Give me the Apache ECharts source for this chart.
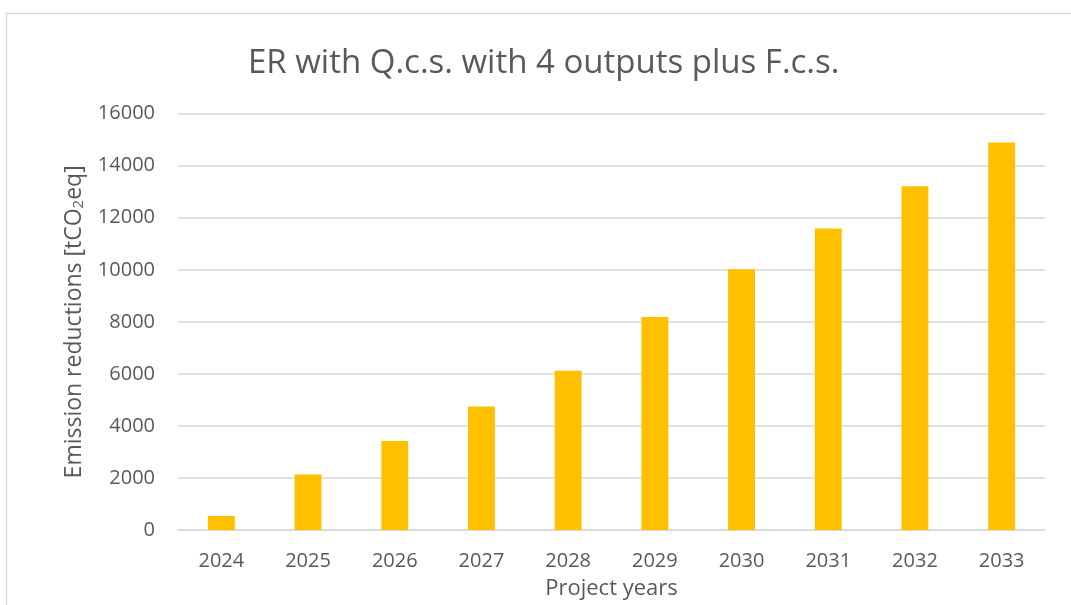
<!DOCTYPE html>
<html>
<head>
<meta charset="utf-8">
<script src="https://cdn.jsdelivr.net/npm/echarts@6/dist/echarts.min.js"></script>
<style>
html,body{margin:0;padding:0;background:#fff;}
#chart{width:1071px;height:605px;}
</style>
</head>
<body>
<div id="chart"></div>
<script>
const categories = ['2024','2025','2026','2027','2028','2029','2030','2031','2032','2033'];
const emissionReductions = [540, 2130, 3420, 4745, 6120, 8190, 10020, 11590, 13210, 14890];
const titleText = 'ER with Q.c.s. with 4 outputs plus F.c.s.';
const yAxisTitle = 'Emission reductions [tCO{sub|2}eq]';
const xAxisTitle = 'Project years';

const FONT = '"Open Sans", sans-serif';
const TXT = '#595959';
const chart = echarts.init(document.getElementById('chart'), null, {renderer: 'canvas'});
chart.setOption({
  animation: false,
  backgroundColor: '#ffffff',
  graphic: [
    {type: 'line', shape: {x1: 6, y1: 13.5, x2: 1071, y2: 13.5}, style: {stroke: '#d9d9d9', lineWidth: 1.5}, silent: true},
    {type: 'line', shape: {x1: 6.5, y1: 13, x2: 6.5, y2: 605}, style: {stroke: '#d9d9d9', lineWidth: 1.5}, silent: true}
  ],
  title: {
    text: titleText,
    left: 243,
    top: 42,
    textStyle: {fontFamily: FONT, fontSize: 33, fontWeight: 'normal', color: TXT}
  },
  grid: {left: 178, right: 26, top: 113.7, bottom: 73, containLabel: false},
  xAxis: {
    type: 'category',
    data: categories,
    name: xAxisTitle,
    nameLocation: 'middle',
    nameGap: 48,
    nameTextStyle: {fontFamily: FONT, fontSize: 22, color: TXT},
    axisLine: {lineStyle: {color: '#d9d9d9', width: 1.5}},
    axisTick: {show: false},
    axisLabel: {fontFamily: FONT, fontSize: 20, color: TXT, margin: 21}
  },
  yAxis: {
    type: 'value',
    min: 0,
    max: 16000,
    interval: 2000,
    name: yAxisTitle,
    nameLocation: 'middle',
    nameGap: 92,
    nameTextStyle: {
      fontFamily: FONT, fontSize: 23, color: TXT,
      rich: {sub: {fontFamily: FONT, fontSize: 15, color: TXT, verticalAlign: 'bottom', padding: [9, 0, 0, 0]}}
    },
    axisLine: {show: false},
    axisTick: {show: false},
    splitLine: {lineStyle: {color: '#d9d9d9', width: 1.5}},
    axisLabel: {fontFamily: FONT, fontSize: 20, color: TXT, margin: 23, formatter: function (v) { return String(v); }}
  },
  series: [{
    type: 'bar',
    data: emissionReductions,
    barWidth: '31%',
    itemStyle: {color: '#FFC000'}
  }]
});
</script>
</body>
</html>
